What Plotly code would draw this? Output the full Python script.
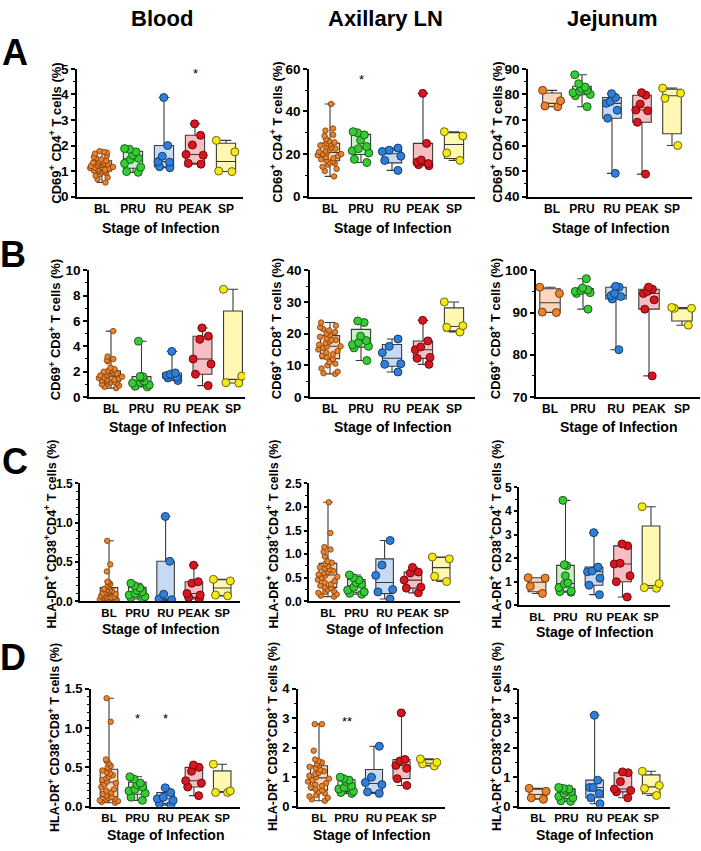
import numpy as np
import plotly.graph_objects as go

STAGES = ["BL", "PRU", "RU", "PEAK", "SP"]
TISSUES = ["Blood", "Axillary LN", "Jejunum"]
PANEL_LETTERS = ["A", "B", "C", "D"]

Y_TITLES = [
    "CD69<sup>+</sup> CD4<sup>+</sup> T cells (%)",
    "CD69<sup>+</sup> CD8<sup>+</sup> T cells (%)",
    "HLA-DR<sup>+</sup> CD38<sup>+</sup>CD4<sup>+</sup> T cells (%)",
    "HLA-DR<sup>+</sup> CD38<sup>+</sup>CD8<sup>+</sup> T cells (%)",
]
X_TITLE = "Stage of Infection"

# ---------------- data: one list per stage (BL, PRU, RU, PEAK, SP) ----------------
# Row A : CD69+ CD4+
a_blood = [
    [0.55, 0.68, 0.75, 0.82, 0.88, 0.92, 0.95, 0.98, 1.0, 1.02, 1.05, 1.07, 1.1, 1.12, 1.14, 1.16, 1.18, 1.2,
     1.22, 1.24, 1.26, 1.28, 1.3, 1.33, 1.36, 1.38, 1.4, 1.45, 1.5, 1.55, 1.6, 1.68, 1.72, 1.75, 1.78],
    [0.95, 0.98, 1.15, 1.3, 1.45, 1.5, 1.62, 1.75, 1.85, 1.88],
    [1.13, 1.17, 1.35, 1.37, 1.58, 2.0, 3.88],
    [1.27, 1.3, 1.62, 1.65, 2.02, 2.4, 2.85],
    [0.98, 1.0, 1.75, 2.2],
]
a_axillary = [
    [9.5, 12, 13, 14, 15, 15.5, 16, 16.5, 17, 17.5, 18, 18.5, 19, 19.5, 20, 20, 20.5, 21, 21.5, 22, 22.5, 23,
     23.5, 24, 24.5, 25, 25.5, 26, 27, 28.5, 29, 31, 32, 43.5],
    [16, 17.5, 20.5, 21.5, 22.5, 23.5, 26.5, 29, 30, 30.5],
    [12.3, 17, 19, 21.2, 21.8, 22.8],
    [14.5, 15, 15.5, 16.2, 17.2, 25, 48.5],
    [17, 20.5, 28.5, 30.5],
]
a_jejunum = [
    [75.2, 75.5, 77.5, 81.6],
    [75.2, 79.5, 80, 80.7, 81.2, 81.6, 82.3, 82.9, 84.2, 87.7],
    [49.1, 70.7, 73.8, 76.5, 77.2, 78.8, 80.3],
    [48.8, 69.1, 73.6, 73.9, 76.2, 79.7, 80.7],
    [60, 78.5, 80.5, 82.5],
]
# Row B : CD69+ CD8+
b_blood = [
    [0.7, 0.8, 0.9, 1.0, 1.05, 1.1, 1.15, 1.2, 1.25, 1.3, 1.35, 1.4, 1.45, 1.5, 1.55, 1.6, 1.65, 1.7, 1.75,
     1.8, 1.85, 1.9, 1.95, 2.0, 2.05, 2.1, 2.2, 2.3, 2.8, 2.9, 3.0, 3.2, 5.2],
    [0.8, 0.85, 0.95, 1.1, 1.15, 1.25, 1.5, 1.6, 1.62, 4.4],
    [1.3, 1.5, 1.55, 1.7, 1.8, 1.9, 3.6],
    [0.9, 1.8, 2.6, 3.0, 4.55, 4.8, 5.45],
    [1.1, 1.13, 1.65, 8.5],
]
b_axillary = [
    [7.3, 7.5, 8, 9, 10, 10.5, 11, 12, 12.5, 13, 13.5, 14, 14.5, 15, 15.5, 16, 16, 16.5, 17, 17.5, 18, 18,
     18.5, 19, 19.5, 20, 20.5, 21, 21.5, 22, 22.5, 23.5],
    [11.5, 15.5, 16, 16.5, 17.2, 17.8, 19.2, 23.5, 24],
    [7.9, 10.3, 10.5, 14.0, 16.0, 18.3],
    [10.3, 12.2, 12.5, 14.9, 15.8, 17.7, 24.2],
    [20.5, 22, 22.5, 30],
]
b_jejunum = [
    [90, 90.1, 94.5, 96],
    [90.8, 94.5, 94.7, 95, 95.2, 95.4, 95.8, 98],
    [81.2, 93.2, 93.8, 94, 94.5, 96, 96.2],
    [75, 90.8, 93, 94.5, 95, 95.5, 96],
    [87, 91, 91, 91.2],
]
# Row C : HLA-DR+ CD38+ CD4+
c_blood = [
    [0.01, 0.01, 0.015, 0.02, 0.02, 0.03, 0.03, 0.04, 0.04, 0.05, 0.05, 0.06, 0.06, 0.07, 0.08, 0.09, 0.1,
     0.1, 0.11, 0.12, 0.13, 0.14, 0.15, 0.16, 0.18, 0.2, 0.22, 0.24, 0.25, 0.38, 0.47, 0.77],
    [0.03, 0.05, 0.06, 0.08, 0.1, 0.12, 0.14, 0.17, 0.2, 0.23],
    [0.01, 0.015, 0.02, 0.03, 0.09, 0.51, 1.08],
    [0.03, 0.05, 0.08, 0.1, 0.23, 0.25, 0.46],
    [0.07, 0.08, 0.26, 0.28],
]
c_axillary = [
    [0.1, 0.12, 0.15, 0.18, 0.2, 0.22, 0.25, 0.28, 0.3, 0.33, 0.36, 0.4, 0.43, 0.46, 0.5, 0.52, 0.55, 0.57,
     0.6, 0.62, 0.65, 0.68, 0.7, 0.72, 0.75, 0.8, 0.82, 0.85, 0.95, 1.05, 1.1, 1.15, 1.45, 2.1],
    [0.15, 0.17, 0.2, 0.24, 0.3, 0.36, 0.4, 0.45, 0.5, 0.56],
    [0.05, 0.2, 0.25, 0.55, 0.77, 1.29],
    [0.18, 0.28, 0.3, 0.45, 0.6, 0.62, 0.72],
    [0.42, 0.53, 0.9, 0.94],
]
c_jejunum = [
    [0.5, 0.8, 1.15, 1.17],
    [0.55, 0.58, 0.6, 0.75, 0.9, 0.95, 1.25, 1.68, 1.72, 4.45],
    [0.45, 0.85, 1.15, 1.42, 1.45, 1.62, 3.08],
    [0.35, 1.0, 1.25, 1.75, 1.78, 2.52, 2.6],
    [0.72, 0.75, 0.92, 4.18],
]
# Row D : HLA-DR+ CD38+ CD8+
d_blood = [
    [0.05, 0.06, 0.07, 0.08, 0.09, 0.1, 0.11, 0.12, 0.14, 0.16, 0.18, 0.2, 0.22, 0.25, 0.28, 0.3, 0.32, 0.34,
     0.36, 0.38, 0.4, 0.42, 0.44, 0.46, 0.48, 0.5, 0.52, 0.55, 0.58, 0.6, 1.08, 1.38],
    [0.08, 0.12, 0.17, 0.2, 0.22, 0.25, 0.28, 0.3, 0.35, 0.38],
    [0.02, 0.04, 0.08, 0.1, 0.12, 0.18, 0.24],
    [0.14, 0.25, 0.3, 0.33, 0.45, 0.5, 0.53],
    [0.18, 0.18, 0.2, 0.54],
]
d_axillary = [
    [0.2, 0.25, 0.3, 0.35, 0.4, 0.45, 0.5, 0.55, 0.6, 0.65, 0.7, 0.75, 0.8, 0.85, 0.9, 0.95, 1.0, 1.05, 1.1,
     1.15, 1.2, 1.25, 1.3, 1.35, 1.4, 1.45, 1.5, 1.55, 1.6, 1.9, 2.8, 2.8],
    [0.45, 0.48, 0.52, 0.6, 0.65, 0.7, 0.85, 0.9, 0.95, 1.0],
    [0.45, 0.5, 0.75, 0.82, 1.0, 2.05],
    [0.72, 0.95, 1.3, 1.4, 1.55, 1.6, 3.18],
    [1.38, 1.45, 1.5, 1.62],
]
d_jejunum = [
    [0.25, 0.3, 0.52, 0.62],
    [0.18, 0.2, 0.3, 0.35, 0.45, 0.5, 0.55, 0.6, 0.62, 0.65],
    [0.1, 0.3, 0.45, 0.65, 0.65, 0.9, 3.1],
    [0.3, 0.5, 0.55, 0.6, 0.85, 1.15, 1.18],
    [0.38, 0.62, 0.72, 1.2],
]

# significance marks: (row, col, stage, y, text)
SIGNIF = [
    (0, 0, "PEAK", 4.8, "*"),
    (0, 1, "PRU", 55, "*"),
    (3, 0, "PRU", 1.12, "*"),
    (3, 0, "RU", 1.12, "*"),
    (3, 1, "PRU", 2.9, "**"),
]

DATA = [
    [a_blood, a_axillary, a_jejunum],
    [b_blood, b_axillary, b_jejunum],
    [c_blood, c_axillary, c_jejunum],
    [d_blood, d_axillary, d_jejunum],
]

# ---------------- styling / layout ----------------
W, H = 701, 851
FONT = "Liberation Sans, Arial, Helvetica, sans-serif"

POINT_COLORS = ["#E8832E", "#35CC35", "#2E7FD8", "#D81620", "#F4EA10"]
POINT_EDGES = ["#7A3A0A", "#1E5E1E", "#173E70", "#6E0A0E", "#6A6420"]
BOX_FILLS = ["#FBD6BC", "#C8F1C8", "#C6DBF3", "#F6BDC3", "#FFF7B2"]

# axis settings per panel: (y range, dtick, minor dtick, tick format)
YAXES = [
    [([0, 5], 1, 0.5, "d"), ([0, 60], 20, 10, "d"), ([40, 90], 10, 5, "d")],
    [([0, 10], 2, 1, "d"), ([0, 40], 10, 5, "d"), ([70, 100], 10, 5, "d")],
    [([0, 1.5], 0.5, 0.1, ".1f"), ([0, 2.5], 0.5, 0.25, ".1f"), ([0, 5], 1, 0.5, "d")],
    [([0, 1.5], 0.5, 0.1, ".1f"), ([0, 4], 1, 0.5, "d"), ([0, 4], 1, 0.5, "d")],
]
YTICK_SIZE = [13.5, 13.5, 12, 13]
YTICK_LEN = [4, 4, 3, 4]
XTICK_SIZE = [12, 12, 11.5, 11.5]
# pixel geometry: (left, right, top, bottom, first-category px, category spacing px)
GEO = [
    [(77, 243, 63, 193, 102, 31), (309, 475, 63, 193, 330, 31), (528, 692, 63, 193, 552, 30)],
    [(89, 245, 268, 397, 111, 30.5), (310, 475, 268, 397, 330, 31), (536, 700, 268, 397, 550, 33)],
    [(80, 240, 485, 605, 109, 28.3), (309, 460, 485, 605, 328, 28.3), (519, 670, 489, 609, 537, 28.5)],
    [(91, 240, 694, 814, 109, 28.3), (298, 445, 694, 814, 319, 27.5), (519, 670, 694, 814, 538, 28.3)],
]
YTITLE_X = [[55, 276, 496], [55, 276, 495], [50, 272, 495], [54, 272, 496]]
YTITLE_Y = [128, 328, 537, 743]
YTITLE_SIZE = [13, 13, 12.5, 12.5]
XTITLE_Y = [[225, 225, 225], [428, 428, 428], [633, 633, 636], [843, 843, 843]]
LETTER_POS = [(15, 46), (13, 252), (15, 463), (13, 662)]
COL_TITLE_X = [162, 385, 612]
COL_TITLE_Y = 12


def px_x(p):
    return p / W


def px_y(p):
    return 1 - p / H


fig = go.Figure()
annotations = []
layout_axes = {}

for r in range(4):
    for c in range(3):
        idx = r * 3 + c + 1
        xa = "x" if idx == 1 else f"x{idx}"
        ya = "y" if idx == 1 else f"y{idx}"
        left, right, top, bottom, bl, sp = GEO[r][c]
        yr, dt, mdt, fmt = YAXES[r][c]
        groups = DATA[r][c]
        for k, stage in enumerate(STAGES):
            vals = np.array(groups[k], dtype=float)
            q1 = float(np.percentile(vals, 25, method="weibull"))
            med = float(np.median(vals))
            q3 = float(np.percentile(vals, 75, method="weibull"))
            fig.add_trace(go.Box(
                x=[stage], q1=[q1], median=[med], q3=[q3],
                lowerfence=[float(vals.min())], upperfence=[float(vals.max())],
                fillcolor=BOX_FILLS[k], line=dict(color="#3a3a3a", width=1.1),
                width=0.62, whiskerwidth=0.55, boxpoints=False,
                xaxis=xa, yaxis=ya, showlegend=False, hoverinfo="skip",
            ))
            big = len(vals) > 20
            fig.add_trace(go.Box(
                x=[stage] * len(vals), y=vals, boxpoints="all", jitter=1.0 if big else 0.9,
                pointpos=0, fillcolor="rgba(0,0,0,0)",
                line=dict(color="rgba(0,0,0,0)", width=0), width=0.82,
                marker=dict(color=POINT_COLORS[k], size=5.5 if big else 8,
                            line=dict(color=POINT_EDGES[k], width=0.8 if big else 1)),
                xaxis=xa, yaxis=ya, showlegend=False, hoverinfo="skip",
            ))
        xkey = "xaxis" if idx == 1 else f"xaxis{idx}"
        ykey = "yaxis" if idx == 1 else f"yaxis{idx}"
        layout_axes[xkey] = dict(
            domain=[px_x(left), px_x(right)], anchor=ya,
            type="category", categoryorder="array", categoryarray=STAGES,
            range=[(left - bl) / sp, (right - bl) / sp],
            showline=True, linecolor="black", linewidth=1.6, ticks="",
            tickangle=0, showgrid=False, zeroline=False,
            tickfont=dict(family=FONT, size=XTICK_SIZE[r], color="black", weight="bold"),
        )
        layout_axes[ykey] = dict(
            domain=[px_y(bottom), px_y(top)], anchor=xa, range=yr,
            tick0=yr[0], dtick=dt, tickformat=fmt,
            ticks="outside", ticklen=YTICK_LEN[r], tickwidth=1.5, tickcolor="black",
            showline=True, linecolor="black", linewidth=1.6,
            showgrid=False, zeroline=False,
            tickfont=dict(family=FONT, size=YTICK_SIZE[r], color="black", weight="bold"),
            minor=dict(dtick=mdt, tick0=yr[0], ticks="outside", ticklen=2.5, tickwidth=1.2,
                       tickcolor="black", showgrid=False),
        )
        annotations.append(dict(
            x=px_x(YTITLE_X[r][c]), y=px_y(YTITLE_Y[r]), xref="paper", yref="paper",
            text=Y_TITLES[r], textangle=-90, showarrow=False,
            font=dict(family=FONT, size=YTITLE_SIZE[r], color="black", weight="bold"),
            xanchor="center", yanchor="middle",
        ))
        annotations.append(dict(
            x=px_x((left + right) / 2), y=px_y(XTITLE_Y[r][c]), xref="paper", yref="paper",
            text=X_TITLE, showarrow=False,
            font=dict(family=FONT, size=14, color="black", weight="bold"),
            xanchor="center", yanchor="middle",
        ))

for (r, c, stage, yv, txt) in SIGNIF:
    idx = r * 3 + c + 1
    annotations.append(dict(
        x=stage, y=yv, xref="x" if idx == 1 else f"x{idx}", yref="y" if idx == 1 else f"y{idx}",
        text=txt, showarrow=False, font=dict(family=FONT, size=13, color="black"),
        xanchor="center", yanchor="middle",
    ))

for i, letter in enumerate(PANEL_LETTERS):
    annotations.append(dict(
        x=px_x(LETTER_POS[i][0]), y=px_y(LETTER_POS[i][1]), xref="paper", yref="paper",
        text=letter, showarrow=False,
        font=dict(family=FONT, size=36, color="black", weight="bold"),
        xanchor="center", yanchor="middle",
    ))

for c, t in enumerate(TISSUES):
    annotations.append(dict(
        x=px_x(COL_TITLE_X[c]), y=px_y(COL_TITLE_Y), xref="paper", yref="paper",
        text=t, showarrow=False,
        font=dict(family=FONT, size=22, color="black", weight="bold"),
        xanchor="center", yanchor="middle",
    ))

fig.update_layout(
    width=W, height=H, margin=dict(l=0, r=0, t=0, b=0),
    paper_bgcolor="white", plot_bgcolor="white",
    boxmode="overlay", showlegend=False,
    annotations=annotations, **layout_axes,
)

fig.write_html(
    "out.html",
    config={"displayModeBar": False},
    post_script="document.body.style.margin='0px';document.body.style.overflow='hidden';",
)
